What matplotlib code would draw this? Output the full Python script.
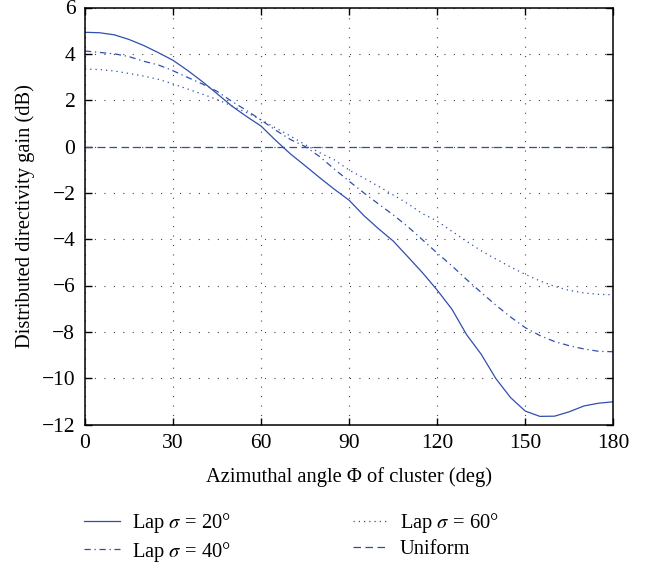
import matplotlib
matplotlib.use("Agg")
import matplotlib.pyplot as plt

plt.rcParams['font.family'] = ['Liberation Serif', 'DejaVu Serif']
plt.rcParams['mathtext.fontset'] = 'stix'

angles = [0, 5, 10, 15, 20, 25, 30, 35, 40, 45, 50, 55, 60, 65, 70, 75, 80, 85, 90,
          95, 100, 105, 110, 115, 120, 125, 130, 135, 140, 145, 150, 155, 160, 165,
          170, 175, 180]

lap20 = [4.93, 4.91, 4.82, 4.62, 4.36, 4.05, 3.72, 3.28, 2.80, 2.28, 1.75, 1.30, 0.88,
         0.26, -0.32, -0.83, -1.35, -1.85, -2.32, -2.98, -3.55, -4.08, -4.76, -5.45,
         -6.20, -7.02, -8.12, -8.97, -10.02, -10.84, -11.42, -11.65, -11.64, -11.45,
         -11.20, -11.08, -11.02]

lap40 = [4.12, 4.06, 4.00, 3.88, 3.68, 3.52, 3.27, 2.98, 2.70, 2.38, 1.95, 1.56, 1.14,
         0.70, 0.30, 0.00, -0.44, -0.98, -1.50, -2.00, -2.48, -2.95, -3.46, -4.03,
         -4.60, -5.15, -5.74, -6.30, -6.85, -7.36, -7.82, -8.16, -8.42, -8.60, -8.74,
         -8.84, -8.86]

lap60 = [3.34, 3.32, 3.26, 3.15, 3.04, 2.90, 2.70, 2.48, 2.26, 2.03, 1.75, 1.47, 1.15,
         0.80, 0.45, 0.08, -0.27, -0.58, -1.02, -1.36, -1.72, -2.09, -2.47, -2.90,
         -3.22, -3.66, -4.09, -4.50, -4.86, -5.20, -5.52, -5.80, -6.04, -6.21, -6.32,
         -6.38, -6.40]

uniform = [0.0] * len(angles)

labels = [r"Lap $\sigma$ = 20°", r"Lap $\sigma$ = 40°", r"Lap $\sigma$ = 60°", "Uniform"]
xticks = [0, 30, 60, 90, 120, 150, 180]
yticks = [-12, -10, -8, -6, -4, -2, 0, 2, 4, 6]

color = '#2f4fae'

fig = plt.figure(figsize=(6.51, 5.62), dpi=100)
ax = fig.add_axes([85/651, 1 - 424.5/562, (613.3-85)/651, (424.5-7.5)/562])

l1, = ax.plot(angles, lap20, color=color, lw=0.9, linestyle='-')
l2, = ax.plot(angles, lap40, color=color, lw=0.9, linestyle=(0, (5, 3, 1, 3)))
l3, = ax.plot(angles, lap60, color=color, lw=0.9, linestyle=(0, (1, 3.2)))
l4, = ax.plot(angles, uniform, color=color, lw=0.9, linestyle=(0, (6, 3.6)))

ax.set_xlim(0, 180)
ax.set_ylim(-12, 6)
ax.set_xticks(xticks)
ax.set_yticks(yticks)
ax.tick_params(direction='in', length=5, width=1, top=True, right=True,
               labelsize=15.5, pad=7)
ax.grid(True, color='#444444', linestyle=(0, (1, 7.5)), linewidth=0.8)
for s in ax.spines.values():
    s.set_linewidth(1.1)

ax.set_xlabel("Azimuthal angle Φ of cluster (deg)", fontsize=14.8, labelpad=10)
ax.set_ylabel("Distributed directivity gain (dB)", fontsize=14.8, labelpad=5)

fig.legend([l1, l2, l3, l4], labels, ncol=2, frameon=False, fontsize=14.8,
           loc='upper left', bbox_to_anchor=(70/651, 1 - 497/562),
           handlelength=1.75, handletextpad=0.55, columnspacing=5.95,
           labelspacing=0.2, borderaxespad=0.3)

fig.savefig("out.png", dpi=100)
